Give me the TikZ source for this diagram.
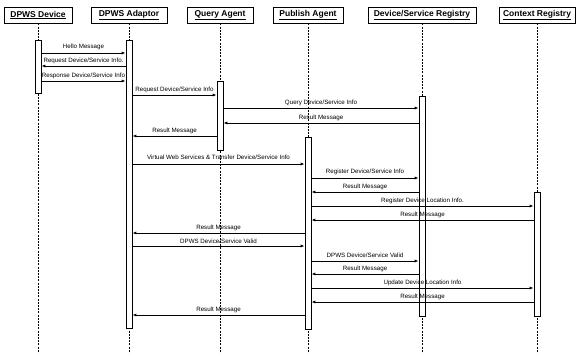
\documentclass[tikz,border=0pt]{standalone}
\usepackage{fontspec}
\setsansfont{Liberation Sans}
\usetikzlibrary{arrows.meta,shadows}

\begin{document}
\begin{tikzpicture}[
  x=1pt,y=-1pt,
  >={Latex[length=4pt,width=3pt]},
  font=\sffamily\fontsize{6.2}{7}\selectfont,
  head/.style={draw,rectangle,fill=white,line width=0.8pt,inner sep=2pt,minimum height=16pt,
    font=\sffamily\bfseries\fontsize{8.5}{10}\selectfont,
    drop shadow={shadow xshift=1.2pt,shadow yshift=-1.2pt,fill=black,opacity=1}},
  life/.style={line width=0.45pt,dash pattern=on 2pt off 1.2pt},
  bar/.style={draw,rectangle,fill=white,line width=0.7pt,minimum width=6pt,inner sep=0pt},
  msg/.style={->,line width=0.8pt},
  lbl/.style={above,inner sep=1.6pt}
]
  % canvas in pixels of the 577x355 frame, y grows downwards
  \useasboundingbox (0,0) rectangle (577,355);

  \node[head,minimum width=68pt] (dev) at (38,15) {\underline{DPWS Device}};
  \node[head,minimum width=76pt] (adp) at (129,15) {\underline{DPWS Adaptor}};
  \node[head,minimum width=66pt] (qry) at (220,15) {\underline{Query Agent}};
  \node[head,minimum width=70pt] (pub) at (308,15) {\underline{Publish Agent}};
  \node[head,minimum width=108pt] (reg) at (422,15) {\underline{Device/Service Registry}};
  \node[head,minimum width=76pt] (ctx) at (537,15) {\underline{Context Registry}};

  \coordinate (bot) at (0,353);
  \draw[life] (dev.south) -- (dev.south |- bot);
  \draw[life] (adp.south) -- (adp.south |- bot);
  \draw[life] (qry.south) -- (qry.south |- bot);
  \draw[life] (pub.south) -- (pub.south |- bot);
  \draw[life] (reg.south) -- (reg.south |- bot);
  \draw[life] (ctx.south) -- (ctx.south |- bot);

  \node[bar,minimum height=53pt] (devbar) at (38,66.5) {};
  \node[bar,minimum height=288pt] (adpbar) at (129,184) {};
  \node[bar,minimum height=69pt] (qrybar) at (220,115.5) {};
  \node[bar,minimum height=220pt] (regbar) at (422,206) {};
  \node[bar,minimum height=192pt] (pubbar) at (308,233) {};
  \node[bar,minimum height=124pt] (ctxbar) at (537,254) {};

  \coordinate (m1) at (0,53);
  \coordinate (m2) at (0,66);
  \coordinate (m3) at (0,81);
  \coordinate (m4) at (0,95);
  \coordinate (m5) at (0,108);
  \coordinate (m6) at (0,123);
  \coordinate (m7) at (0,136);
  \coordinate (m8) at (0,164);
  \coordinate (m9) at (0,178);
  \coordinate (m10) at (0,192);
  \coordinate (m11) at (0,206);
  \coordinate (m12) at (0,220);
  \coordinate (m13) at (0,233);
  \coordinate (m14) at (0,246);
  \coordinate (m15) at (0,261);
  \coordinate (m16) at (0,274);
  \coordinate (m17) at (0,288);
  \coordinate (m18) at (0,302);
  \coordinate (m19) at (0,315);

  \draw[msg] (devbar.east |- m1) -- node[lbl,inner sep=3pt] {Hello Message} (adpbar.west |- m1);
  \draw[msg] (adpbar.west |- m2) -- node[lbl] {Request Device/Service Info.} (devbar.east |- m2);
  \draw[msg] (devbar.east |- m3) -- node[lbl] {Response Device/Service Info} (adpbar.west |- m3);
  \draw[msg] (adpbar.east |- m4) -- node[lbl] {Request Device/Service Info} (qrybar.west |- m4);
  \draw[msg] (qrybar.east |- m5) -- node[lbl] {Query Device/Service Info} (regbar.west |- m5);
  \draw[msg] (regbar.west |- m6) -- node[lbl] {Result Message} (qrybar.east |- m6);
  \draw[msg] (qrybar.west |- m7) -- node[lbl] {Result Message} (adpbar.east |- m7);
  \draw[msg] (adpbar.east |- m8) -- node[lbl,inner sep=4pt] {Virtual Web Services \& Transfer Device/Service Info} (pubbar.west |- m8);
  \draw[msg] (pubbar.east |- m9) -- node[lbl,inner sep=3pt] {Register Device/Service Info} (regbar.west |- m9);
  \draw[msg] (regbar.west |- m10) -- node[lbl] {Result Message} (pubbar.east |- m10);
  \draw[msg] (pubbar.east |- m11) -- node[lbl] {Register Device Location Info.} (ctxbar.west |- m11);
  \draw[msg] (ctxbar.west |- m12) -- node[lbl] {Result Message} (pubbar.east |- m12);
  \draw[msg] (pubbar.west |- m13) -- node[lbl] {Result Message} (adpbar.east |- m13);
  \draw[msg] (adpbar.east |- m14) -- node[lbl] {DPWS Device/Service Valid} (pubbar.west |- m14);
  \draw[msg] (pubbar.east |- m15) -- node[lbl,inner sep=3pt] {DPWS Device/Service Valid} (regbar.west |- m15);
  \draw[msg] (regbar.west |- m16) -- node[lbl] {Result Message} (pubbar.east |- m16);
  \draw[msg] (pubbar.east |- m17) -- node[lbl] {Update Device Location Info} (ctxbar.west |- m17);
  \draw[msg] (ctxbar.west |- m18) -- node[lbl] {Result Message} (pubbar.east |- m18);
  \draw[msg] (pubbar.west |- m19) -- node[lbl] {Result Message} (adpbar.east |- m19);
\end{tikzpicture}
\end{document}
